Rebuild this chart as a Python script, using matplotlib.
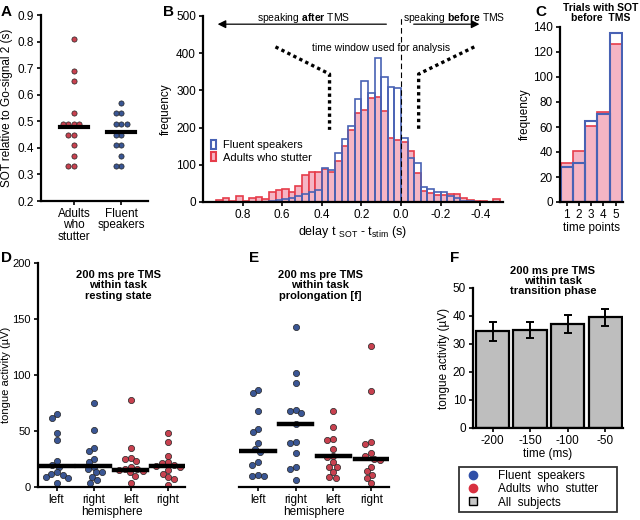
import numpy as np
import matplotlib
matplotlib.use("Agg")
import matplotlib.pyplot as plt
from matplotlib.patches import Patch
from matplotlib.lines import Line2D

plt.rcParams['font.family'] = ['Liberation Sans', 'DejaVu Sans']
plt.rcParams['mathtext.fontset'] = 'custom'
plt.rcParams['mathtext.rm'] = 'Liberation Sans'
plt.rcParams['mathtext.bf'] = 'Liberation Sans:bold'
plt.rcParams['mathtext.it'] = 'Liberation Sans:italic'

W, H = 640, 520

RED_DOT = '#c8414f'
BLUE_DOT = '#3a5694'
PINK = '#f5b5c4'
RED_EDGE = '#e63c4a'
BLUE_EDGE = '#4862b4'

# ---------------- data ----------------
# A: speech onset per subject
groups_a = ['Adults\nwho\nstutter', 'Fluent\nspeakers']
sot_aws = [0.81, 0.69, 0.65, 0.53, 0.49, 0.49, 0.49, 0.49, 0.45, 0.45, 0.41, 0.37, 0.33, 0.33]
sot_fluent = [0.57, 0.53, 0.53, 0.49, 0.49, 0.49, 0.45, 0.45, 0.41, 0.41, 0.37, 0.33, 0.33]
sot_median = [0.48, 0.46]

# B: histogram of delays, bin k covers [k, k+1] * bin_width
bin_width = 1 / 30
bin_index = list(range(27, -16, -1))
hist_aws = [6, 10, 3, 17, 4, 12, 14, 8, 28, 33, 35, 26, 44, 73, 81, 80, 88, 80, 109, 151,
            194, 240, 248, 279, 282, 245, 172, 168, 160, 136, 78, 30, 24, 20, 18, 21, 21,
            11, 6, 3, 2, 1, 8]
hist_fluent = [0, 0, 0, 0, 0, 0, 0, 1, 3, 5, 8, 12, 17, 22, 28, 33, 91, 85, 131, 169,
               205, 276, 324, 294, 386, 337, 309, 306, 172, 118, 105, 39, 35, 26, 26, 17,
               11, 4, 2, 1, 1, 0, 0]
b_xticks = [0.8, 0.6, 0.4, 0.2, 0.0, -0.2, -0.4]
b_xticklabels = ['0.8', '0.6', '0.4', '0.2', '0.0', '-0.2', '-0.4']

# C: trials with SOT before TMS
time_points = [1, 2, 3, 4, 5]
trials_aws = [31, 41, 61, 72, 126]
trials_fluent = [28, 31, 65, 70, 135]

# D / E: tongue activity per subject
hemi_labels = ['left', 'right', 'left', 'right']
d_groups = [
    [65, 62, 48, 42, 23, 20, 18, 13, 12, 11, 9, 8, 4],
    [75, 51, 35, 32, 25, 22, 18, 16, 13, 13, 9, 6, 4],
    [78, 35, 26, 25, 23, 18, 16, 16, 15, 14, 13, 10, 4],
    [48, 40, 28, 22, 21, 20, 19, 18, 15, 12, 9, 7, 2],
]
d_medians = [19, 19, 15.5, 19]
e_groups = [
    [87, 84, 68, 52, 49, 39, 34, 31, 22, 20, 11, 10, 10],
    [143, 102, 93, 69, 68, 66, 56, 40, 39, 30, 18, 16, 6],
    [68, 54, 43, 42, 34, 28, 27, 22, 18, 18, 13, 9, 8],
    [126, 86, 40, 38, 30, 28, 25, 24, 18, 14, 11, 8, 4],
]
e_medians = [32, 56, 28, 25]
group_colors = [BLUE_DOT, BLUE_DOT, RED_DOT, RED_DOT]

# F: all subjects, transition phase
f_times = ['-200', '-150', '-100', '-50']
f_mean = [34.5, 35.0, 37.3, 39.5]
f_err = [3.3, 3.0, 3.2, 3.1]


# ---------------- helpers ----------------
fig = plt.figure(figsize=(6.4, 5.2), dpi=100)


def box(l, t, r, b):
    return fig.add_axes([l / W, 1 - b / H, (r - l) / W, (b - t) / H])


def ftext(x, y, s, **kw):
    fig.text(x / W, 1 - y / H, s, **kw)


def style(ax, left=True, size=8.5):
    for s in ['top', 'right']:
        ax.spines[s].set_visible(False)
    ax.spines['bottom'].set_linewidth(1.6)
    ax.spines['left'].set_linewidth(1.6)
    if not left:
        ax.spines['left'].set_visible(False)
        ax.tick_params(axis='y', left=False, labelleft=False)
    ax.tick_params(labelsize=size, width=1.2, length=3, pad=2)


def swarm(ax, x0, values, color, diam, s, maxoff=40):
    # push dots sideways (in pixels) until they stop overlapping;
    # within +-maxoff pick the least crowded spot if no free one exists
    placed = []
    xs = []
    offsets = sorted(np.arange(-maxoff, maxoff + 0.01, 0.5), key=abs)
    for v in values:
        px, py = ax.transData.transform((x0, v))
        best, best_d = 0.0, -1.0
        for off in offsets:
            d = min([np.hypot(px + off - qx, py - qy) for qx, qy in placed] or [99])
            if d >= diam:
                best = off
                break
            if d > best_d + 0.01:
                best, best_d = off, d
        placed.append((px + best, py))
        xs.append(ax.transData.inverted().transform((px + best, py))[0])
    ax.scatter(xs, values, s=s, color=color, edgecolor='#222222', lw=0.5, zorder=2)


# ---------------- A ----------------
axA = box(41, 15, 148, 201)
style(axA)
axA.set_xlim(-0.7, 1.57)
axA.set_ylim(0.2, 0.9)
axA.set_yticks(np.arange(0.2, 0.91, 0.1))
axA.set_yticklabels(['%.1f' % v for v in np.arange(0.2, 0.91, 0.1)])
axA.set_xticks([0, 1])
axA.set_xticklabels(groups_a, linespacing=0.95)
swarm(axA, 0, sot_aws, RED_DOT, 5.3, 14)
swarm(axA, 1, sot_fluent, BLUE_DOT, 5.3, 14)
for i, m in enumerate(sot_median):
    axA.plot([i - 0.3, i + 0.3], [m, m], color='k', lw=3, zorder=3)
axA.set_ylabel('SOT relative to Go-signal 2 (s)', fontsize=8.5, labelpad=3)

# ---------------- B ----------------
axB = box(203, 16, 503, 202)
style(axB)
centers = (np.array(bin_index) + 0.5) * bin_width
axB.bar(centers, hist_aws, width=bin_width, color=PINK, edgecolor=RED_EDGE, lw=1.2)
axB.bar(centers, hist_fluent, width=bin_width, fill=False, edgecolor=BLUE_EDGE, lw=1.2)
axB.set_xlim(1.0, -0.515)
axB.set_ylim(0, 500)
axB.set_yticks(range(0, 501, 100))
axB.set_xticks(b_xticks)
axB.set_xticklabels(b_xticklabels)
axB.axvline(0, color='k', lw=0.8, ls=(0, (5, 3)))
axB.annotate('', xy=(0.94, 478), xytext=(0.06, 478),
             arrowprops=dict(arrowstyle='-|>', color='k', lw=0.9, mutation_scale=12))
axB.annotate('', xy=(-0.41, 478), xytext=(-0.05, 478),
             arrowprops=dict(arrowstyle='-|>', color='k', lw=0.9, mutation_scale=12))
axB.text(0.49, 494, 'speaking $\\mathbf{after}$ TMS', ha='center', va='center', fontsize=7.5)
axB.text(-0.27, 494, 'speaking $\\mathbf{before}$ TMS', ha='center', va='center', fontsize=7.5)
axB.text(0.1, 413, 'time window used for analysis', ha='center', va='center', fontsize=7.5)
axB.plot([0.634, 0.361, 0.361], [417, 344, 194], color='k', lw=2.4, ls=(0, (1, 1)))
axB.plot([-0.37, -0.089, -0.089], [417, 344, 194], color='k', lw=2.4, ls=(0, (1, 1)))
handles_b = [Patch(facecolor='white', edgecolor=BLUE_EDGE, lw=1.5),
             Patch(facecolor=PINK, edgecolor=RED_EDGE, lw=1.5)]
axB.legend(handles_b, ['Fluent speakers', 'Adults who stutter'], loc='lower left',
           bbox_to_anchor=(0.0, 0.17), frameon=False, fontsize=8, handlelength=0.5,
           handleheight=0.8, handletextpad=0.6, labelspacing=0.2, borderaxespad=0.3)
axB.set_ylabel('frequency', fontsize=8.5, labelpad=3)
axB.set_xlabel('delay t $_{\\mathrm{SOT}}$ - t$_{\\mathrm{stim}}$ (s)', fontsize=9, labelpad=2)

# ---------------- C ----------------
axC = box(560, 27, 623, 202)
style(axC)
axC.bar(time_points, trials_aws, width=1, color=PINK, edgecolor=RED_EDGE, lw=1.2)
axC.bar(time_points, trials_fluent, width=1, fill=False, edgecolor=BLUE_EDGE, lw=1.5)
axC.set_xlim(0.45, 5.6)
axC.set_ylim(0, 140)
axC.set_yticks(range(0, 141, 20))
axC.set_xticks(time_points)
axC.set_xlabel('time points', fontsize=8.5, labelpad=1)
axC.set_ylabel('frequency', fontsize=8.5, labelpad=2)
ftext(601, 3, 'Trials with SOT\nbefore  TMS', ha='center', va='top', fontsize=7.5,
      fontweight='bold', linespacing=1.05)

# ---------------- D / E ----------------
axD = box(38, 263, 185, 487)
axE = box(239, 263, 389, 487)
for ax, groups, medians, left in [(axD, d_groups, d_medians, True),
                                  (axE, e_groups, e_medians, False)]:
    style(ax, left, size=8)
    ax.tick_params(axis='x', labelsize=8.5)
    ax.set_xlim(-0.5, 3.47)
    ax.set_ylim(0, 200)
    ax.set_yticks(range(0, 201, 50))
    ax.set_xticks(range(4))
    ax.set_xticklabels(hemi_labels)
    ax.set_xlabel('hemisphere', fontsize=8.5, labelpad=0)
    for i, vals in enumerate(groups):
        swarm(ax, i, vals, group_colors[i], 6.0, 20, maxoff=12)
        ax.plot([i - 0.44, i + 0.44], [medians[i], medians[i]], color='k', lw=3.2, zorder=3)
axD.set_ylabel('tongue activity (µV)', fontsize=8, labelpad=1)
ftext(118, 270, '200 ms pre TMS\nwithin task\nresting state', ha='center', va='top',
      fontsize=8, fontweight='bold', linespacing=1.05)
ftext(320, 270, '200 ms pre TMS\nwithin task\nprolongation [f]', ha='center', va='top',
      fontsize=8, fontweight='bold', linespacing=1.05)

# ---------------- F ----------------
axF = box(473, 288, 623, 428)
style(axF)
xf = np.arange(len(f_times))
axF.bar(xf, f_mean, width=0.89, color='#bebebe', edgecolor='k', lw=1.6)
axF.errorbar(xf, f_mean, yerr=f_err, fmt='none', ecolor='k', elinewidth=1.4,
             capsize=3, capthick=1.4)
axF.set_xlim(-0.52, 3.47)
axF.set_ylim(0, 50)
axF.set_yticks(range(0, 51, 10))
axF.set_xticks(xf)
axF.set_xticklabels(f_times)
axF.set_xlabel('time (ms)', fontsize=8.5, labelpad=1)
axF.set_ylabel('tongue activity (µV)', fontsize=8.5, labelpad=2)
ftext(553, 266, '200 ms pre TMS\nwithin task\ntransition phase', ha='center', va='top',
      fontsize=8, fontweight='bold', linespacing=1.0)

handles_f = [Line2D([], [], marker='o', ls='', mfc='#3050a8', mec='#3050a8', ms=6),
             Line2D([], [], marker='o', ls='', mfc='#d83040', mec='#d83040', ms=6),
             Line2D([], [], marker='s', ls='', mfc='#c8c8c8', mec='k', ms=6)]
leg = fig.legend(handles_f, ['Fluent  speakers', 'Adults  who  stutter', 'All  subjects'],
                 loc='lower left', bbox_to_anchor=(453 / W, 2 / H, 170 / W, 49 / H),
                 mode='expand', fontsize=8.5, fancybox=False, edgecolor='k',
                 handletextpad=1.2, labelspacing=0.1, borderpad=0.3, handlelength=1.8)
leg.get_frame().set_linewidth(1.3)

# ---------------- panel letters ----------------
for x, y, s in [(1, 5, 'A'), (163, 5, 'B'), (535, 5, 'C'),
                (1, 251, 'D'), (249, 251, 'E'), (450, 251, 'F')]:
    ftext(x, y, s, ha='left', va='top', fontsize=11, fontweight='bold')

plt.savefig('out.png', dpi=100)
